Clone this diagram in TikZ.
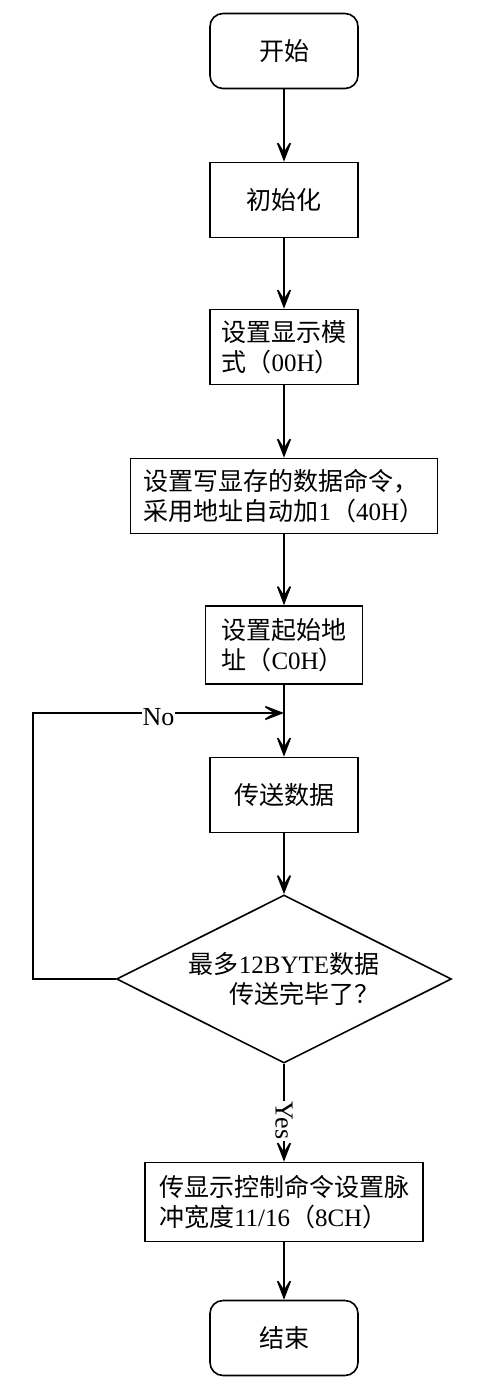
\documentclass[tikz,border=0pt]{standalone}
\usepackage{fontspec}
\setmainfont{Liberation Serif}
\newfontfamily\cjk{Noto Sans CJK SC}
\usetikzlibrary{shapes.geometric,arrows.meta}
\newcommand{\lat}[1]{{\rmfamily #1}}

\tikzset{
    box/.style={draw, line width=1.6pt, minimum width=148pt, minimum height=75pt,
        inner sep=6pt, font=\cjk\fontsize{25}{30}\selectfont},
    term/.style={box, rounded corners=13pt},
    cond/.style={draw, diamond, aspect=2, inner sep=0pt, line width=1.6pt,
        minimum width=335pt, minimum height=168pt, font=\cjk\fontsize{25}{30}\selectfont},
    flow/.style={line width=1.6pt, -{Stealth[length=26pt,width=20pt,inset=16pt]}},
    lbl/.style={fill=white, inner sep=1pt, font=\fontsize{26}{26}\selectfont}
}

\begin{document}
\begin{tikzpicture}[x=1pt,y=-1pt]

        \useasboundingbox (0,0) rectangle (485,1395);

        \node[term] (start) at (284,51) {开始};
        \node[box] (init) at (284,200) {初始化};
        \node[box, align=left] (mode) at (284,347) {设置显示模\\式（\lat{00H}）};
        \node[box, align=left, minimum width=307pt] (write) at (284,496)
            {设置写显存的数据命令，\\采用地址自动加\lat{1}（\lat{40H}）};
        \node[box, align=left, minimum width=157pt, minimum height=78pt] (addr) at (284,645)
            {设置起始地\\址（\lat{C0H}）};
        \node[box] (send) at (284,795) {传送数据};
        \node[cond, align=right] (dec) at (284,979) {最多\lat{12BYTE}数据\\传送完毕了？};
        \node[box, align=left, minimum width=278pt, minimum height=79pt] (final) at (284,1202)
            {传显示控制命令设置脉\\冲宽度\lat{11/16}（\lat{8CH}）};
        \node[term] (stop) at (284,1338) {结束};

        \foreach \a/\b in {start/init,init/mode,mode/write,write/addr,addr/send,send/dec,final/stop}
            { \draw[flow] (\a) -- (\b); }

        \draw[flow] (dec) -- node[lbl, rotate=-90, pos=0.58] {Yes} (final);

        % loop back
        \coordinate (loopL) at (33,979);
        \coordinate (loopT) at (33,713);
        \coordinate (loopIn) at (284,713);
        \draw[flow] (dec.west) -- (loopL) -- (loopT) -- node[lbl, yshift=-4pt] {No} (loopIn);
    \end{tikzpicture}
\end{document}
